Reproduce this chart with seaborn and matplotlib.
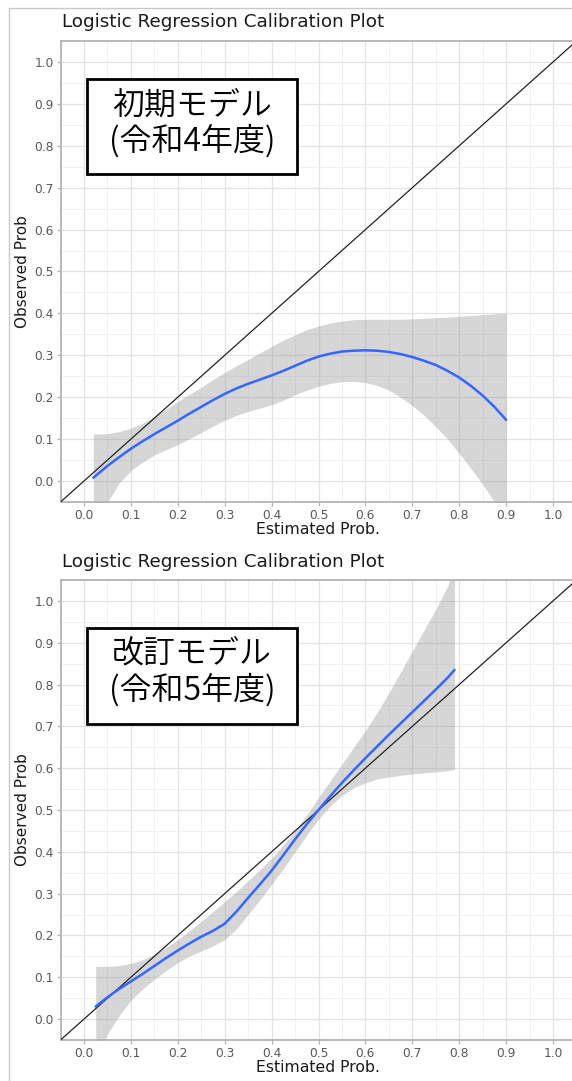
import matplotlib

matplotlib.use("Agg")

import matplotlib.pyplot as plt  # noqa: E402
import numpy as np  # noqa: E402
import pandas as pd  # noqa: E402
import seaborn as sns  # noqa: E402
from matplotlib.patches import Rectangle  # noqa: E402
from matplotlib.lines import Line2D  # noqa: E402

W, H = 572, 1081

TITLE = "Logistic Regression Calibration Plot"
X_LABEL = "Estimated Prob."
Y_LABEL = "Observed Prob"
TICKS = [0.0, 0.1, 0.2, 0.3, 0.4, 0.5, 0.6, 0.7, 0.8, 0.9, 1.0]

# 令和4年度 (初期モデル)
est_r4 = [0.02, 0.05, 0.075, 0.1, 0.125, 0.15, 0.175, 0.2, 0.225, 0.25,
          0.275, 0.3, 0.325, 0.35, 0.375, 0.4, 0.425, 0.45, 0.475, 0.5,
          0.525, 0.55, 0.575, 0.6, 0.625, 0.65, 0.675, 0.7, 0.725, 0.75,
          0.775, 0.8, 0.825, 0.85, 0.875, 0.9]
obs_r4 = [0.008, 0.036, 0.057, 0.077, 0.095, 0.112, 0.128, 0.144, 0.161, 0.177,
          0.193, 0.208, 0.221, 0.232, 0.242, 0.252, 0.263, 0.275, 0.287, 0.297,
          0.304, 0.309, 0.311, 0.312, 0.311, 0.308, 0.303, 0.296, 0.287, 0.277,
          0.263, 0.247, 0.227, 0.204, 0.177, 0.146]
lo_r4 = [-0.16, -0.05, -0.005, 0.025, 0.045, 0.062, 0.075, 0.087, 0.101, 0.116,
         0.131, 0.145, 0.157, 0.166, 0.174, 0.182, 0.193, 0.206, 0.217, 0.226,
         0.233, 0.237, 0.238, 0.235, 0.228, 0.217, 0.2, 0.18, 0.157, 0.13,
         0.1, 0.066, 0.03, -0.008, -0.05, -0.095]
hi_r4 = [0.112, 0.113, 0.118, 0.126, 0.138, 0.154, 0.171, 0.19, 0.207, 0.224,
         0.242, 0.259, 0.275, 0.29, 0.306, 0.321, 0.336, 0.349, 0.361, 0.37,
         0.377, 0.382, 0.385, 0.386, 0.386, 0.386, 0.386, 0.387, 0.388, 0.39,
         0.391, 0.393, 0.395, 0.397, 0.399, 0.40]

# 令和5年度 (改訂モデル)
est_r5 = [0.025, 0.05, 0.075, 0.1, 0.125, 0.15, 0.175, 0.2, 0.225, 0.25,
          0.275, 0.3, 0.325, 0.35, 0.375, 0.4, 0.425, 0.45, 0.475, 0.5,
          0.525, 0.55, 0.575, 0.6, 0.625, 0.65, 0.675, 0.7, 0.725, 0.75,
          0.775, 0.79]
obs_r5 = [0.03, 0.052, 0.072, 0.09, 0.108, 0.127, 0.146, 0.164, 0.181, 0.197,
          0.211, 0.228, 0.257, 0.29, 0.322, 0.355, 0.392, 0.43, 0.466, 0.5,
          0.533, 0.565, 0.595, 0.624, 0.652, 0.68, 0.707, 0.734, 0.761, 0.788,
          0.816, 0.835]
lo_r5 = [-0.12, -0.035, 0.008, 0.045, 0.072, 0.095, 0.116, 0.135, 0.151, 0.163,
         0.175, 0.19, 0.216, 0.25, 0.285, 0.322, 0.36, 0.4, 0.44, 0.478,
         0.51, 0.535, 0.553, 0.565, 0.574, 0.579, 0.583, 0.586, 0.589, 0.591,
         0.594, 0.597]
hi_r5 = [0.126, 0.126, 0.128, 0.133, 0.142, 0.155, 0.171, 0.19, 0.211, 0.234,
         0.257, 0.281, 0.305, 0.331, 0.357, 0.385, 0.416, 0.45, 0.488, 0.53,
         0.57, 0.61, 0.65, 0.69, 0.733, 0.78, 0.83, 0.88, 0.93, 0.98,
         1.035, 1.08]

PANELS = [
    {"est": est_r4, "obs": obs_r4, "lo": lo_r4, "hi": hi_r4,
     "label": ["初期モデル", "(令和4年度)"], "top": 41, "bottom": 502,
     "title_y": 22, "box": (87, 79, 297, 174), "lines_y": (106, 142)},
    {"est": est_r5, "obs": obs_r5, "lo": lo_r5, "hi": hi_r5,
     "label": ["改訂モデル", "(令和5年度)"], "top": 580, "bottom": 1040,
     "title_y": 562, "box": (87, 628, 297, 724), "lines_y": (654, 691)},
]

sns.set_theme(style="white")
plt.rcParams["font.family"] = ["DejaVu Sans"]
JP_FONT = ["Noto Sans CJK JP", "DejaVu Sans"]


def fx(x):
    return x / W


def fy(y):
    return 1 - y / H


fig = plt.figure(figsize=(W / 100, H / 100), dpi=100)
fig.patch.set_facecolor("white")

# screenshot frame
fig.add_artist(Line2D([fx(9), fx(9)], [fy(8), fy(H)], color="#c8c8c8", lw=1.0))
fig.add_artist(Line2D([fx(9), fx(W)], [fy(8), fy(8)], color="#c8c8c8", lw=1.0))

left, right = 60.5, 576.5
for p in PANELS:
    ax = fig.add_axes([fx(left), fy(p["bottom"]), (right - left) / W,
                       (p["bottom"] - p["top"]) / H])
    ax.set_facecolor("white")
    ax.set_xlim(-0.05, 1.05)
    ax.set_ylim(-0.05, 1.05)
    ax.set_xticks(TICKS)
    ax.set_yticks(TICKS)
    ax.set_xticks(np.array(TICKS[:-1]) + 0.05, minor=True)
    ax.set_yticks(np.array(TICKS[:-1]) + 0.05, minor=True)
    ax.set_xticklabels([f"{t:.1f}" for t in TICKS])
    ax.set_yticklabels([f"{t:.1f}" for t in TICKS])
    ax.grid(which="major", color="#e3e3e3", lw=0.9)
    ax.grid(which="minor", color="#efefef", lw=0.6)
    ax.set_axisbelow(True)
    for s in ax.spines.values():
        s.set_color("#b3b3b3")
        s.set_linewidth(1.3)
    ax.tick_params(which="major", bottom=True, left=True, length=3, width=0.9,
                   color="#b3b3b3", labelcolor="#595959", labelsize=8.8, pad=2)
    ax.tick_params(which="minor", bottom=False, left=False)

    ax.fill_between(p["est"], p["lo"], p["hi"], color="#999999", alpha=0.4,
                    lw=0, zorder=2)
    df = pd.DataFrame({"est": p["est"], "obs": p["obs"]})
    sns.lineplot(data=df, x="est", y="obs", ax=ax, color="#3366FF", lw=1.8,
                 zorder=4)
    ax.axline((0, 0), slope=1, color="#222222", lw=0.9, zorder=3)

    ax.set_xlabel(X_LABEL, fontsize=11.3, color="#1a1a1a", labelpad=0)
    ax.set_ylabel(Y_LABEL, fontsize=11, color="#1a1a1a", labelpad=3)

    fig.text(fx(62), fy(p["title_y"]), TITLE, fontsize=13.2, color="#1a1a1a",
             ha="left", va="center")

    x0, y0, x1, y1 = p["box"]
    fig.add_artist(Rectangle((fx(x0), fy(y1)), (x1 - x0) / W, (y1 - y0) / H,
                             transform=fig.transFigure, facecolor="white",
                             edgecolor="black", lw=2, zorder=10))
    cx = (x0 + x1) / 2
    for line, ly in zip(p["label"], p["lines_y"]):
        fig.text(fx(cx), fy(ly), line, fontsize=23, color="black",
                 family=JP_FONT, fontweight=350,
                 ha="center", va="center", zorder=11)

fig.savefig("out.png", dpi=100)
